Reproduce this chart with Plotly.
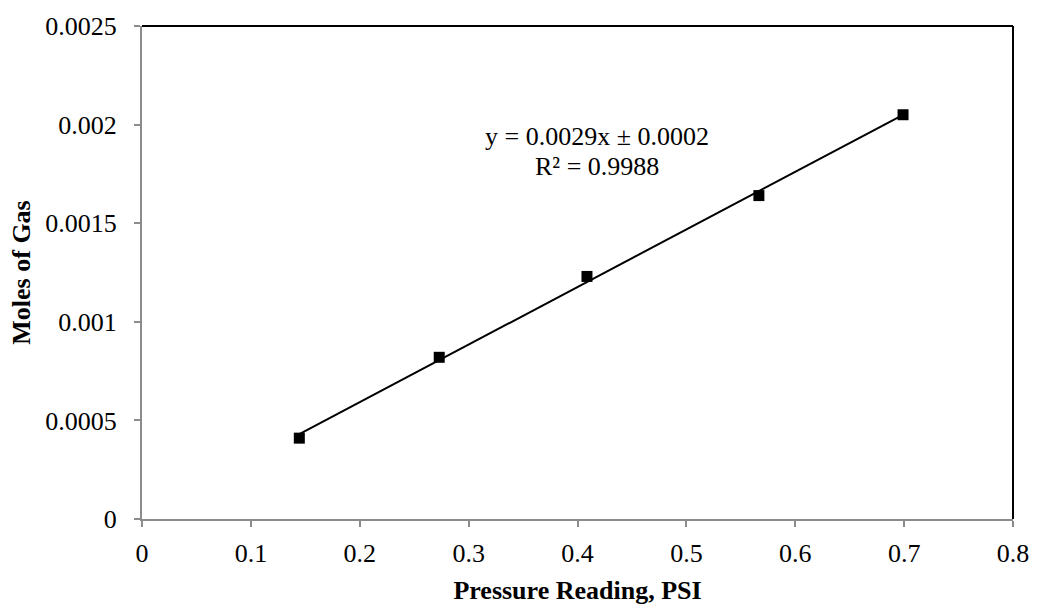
import numpy as np
import plotly.graph_objects as go

# Data
pressure_psi = [0.1445, 0.273, 0.4087, 0.5666, 0.699]
moles_gas = [0.00041, 0.00082, 0.00123, 0.00164, 0.00205]

x_tick_vals = [0, 0.1, 0.2, 0.3, 0.4, 0.5, 0.6, 0.7, 0.8]
x_tick_text = ["0", "0.1", "0.2", "0.3", "0.4", "0.5", "0.6", "0.7", "0.8"]
y_tick_vals = [0, 0.0005, 0.001, 0.0015, 0.002, 0.0025]
y_tick_text = ["0", "0.0005", "0.001", "0.0015", "0.002", "0.0025"]

eq_text = "y = 0.0029x ± 0.0002"
r2_text = "R² = 0.9988"

FONT = "Liberation Serif, Times New Roman, serif"
FS = 26

# Linear trendline fitted to the data
slope, intercept = np.polyfit(pressure_psi, moles_gas, 1)
tx = np.array([min(pressure_psi), max(pressure_psi)])
ty = slope * tx + intercept

fig = go.Figure()
fig.add_trace(go.Scatter(x=tx, y=ty, mode="lines",
                         line=dict(color="black", width=2),
                         showlegend=False, hoverinfo="skip"))
fig.add_trace(go.Scatter(x=pressure_psi, y=moles_gas, mode="markers",
                         marker=dict(symbol="square", size=11, color="black"),
                         showlegend=False))

fig.update_layout(
    width=1041, height=612,
    margin=dict(l=142, r=24, t=16, b=90),
    paper_bgcolor="white", plot_bgcolor="white",
    font=dict(family=FONT, size=FS, color="black"),
    showlegend=False,
)
fig.update_xaxes(
    range=[0, 0.8], tickvals=x_tick_vals, ticktext=x_tick_text,
    showgrid=False, zeroline=False,
    showline=True, linecolor="#8c8c8c", linewidth=2,
    ticks="outside", ticklen=6, tickcolor="#8c8c8c", tickwidth=1.5,
    tickfont=dict(family=FONT, size=FS, color="black"),
    ticklabelstandoff=4,
    title=dict(text="<b>Pressure Reading, PSI</b>",
               font=dict(family=FONT, size=FS, color="black"), standoff=14),
)
fig.update_yaxes(
    range=[0, 0.0025], tickvals=y_tick_vals, ticktext=y_tick_text,
    showgrid=False, zeroline=False,
    showline=True, linecolor="#8c8c8c", linewidth=2,
    ticks="outside", ticklen=6, tickcolor="#8c8c8c", tickwidth=1.5,
    tickfont=dict(family=FONT, size=FS, color="black"),
    ticklabelstandoff=12,
    title=dict(text="<b>Moles of Gas</b>",
               font=dict(family=FONT, size=FS, color="black"), standoff=7),
)

# Top and right plot-area border (black)
fig.add_shape(type="line", xref="x domain", yref="y domain",
              x0=0, x1=1, y0=1, y1=1, line=dict(color="black", width=2))
fig.add_shape(type="line", xref="x domain", yref="y domain",
              x0=1, x1=1, y0=0, y1=1, line=dict(color="black", width=2))

fig.add_annotation(x=0.418, y=0.00194, xref="x", yref="y", text=eq_text,
                   showarrow=False, font=dict(family=FONT, size=FS, color="black"),
                   xanchor="center", yanchor="middle")
fig.add_annotation(x=0.418, y=0.00179, xref="x", yref="y", text=r2_text,
                   showarrow=False, font=dict(family=FONT, size=FS, color="black"),
                   xanchor="center", yanchor="middle")

fig.write_html("out.html")
